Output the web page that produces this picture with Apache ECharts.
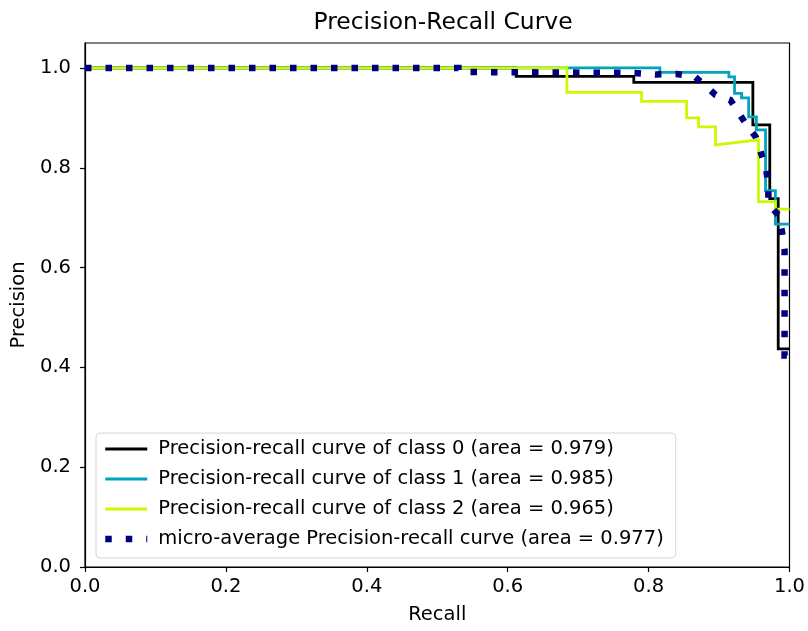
<!DOCTYPE html>
<html>
<head>
<meta charset="utf-8">
<script src="https://cdn.jsdelivr.net/npm/echarts@6/dist/echarts.min.js"></script>
<style>
  html, body { margin: 0; padding: 0; background: #fff; }
  #chart { width: 808px; height: 631px; }
</style>
</head>
<body>
<div id="chart"></div>
<script>
// Precision-recall curves per class plus the micro-average curve
const seriesNames = [
  'Precision-recall curve of class 0 (area = 0.979)',
  'Precision-recall curve of class 1 (area = 0.985)',
  'Precision-recall curve of class 2 (area = 0.965)',
  'micro-average Precision-recall curve (area = 0.977)'
];

const class0Recall    = [0, 0.612, 0.612, 0.779, 0.779, 0.948, 0.948, 0.972, 0.972, 0.984, 0.984, 1.0];
const class0Precision = [1.0, 1.0, 0.983, 0.983, 0.971, 0.971, 0.886, 0.886, 0.738, 0.738, 0.437, 0.437];

const class1Recall    = [0, 0.816, 0.816, 0.914, 0.914, 0.922, 0.922, 0.932, 0.932, 0.942, 0.942, 0.953, 0.953, 0.966, 0.966, 0.980, 0.980, 1.0];
const class1Precision = [1.0, 1.0, 0.991, 0.991, 0.982, 0.982, 0.949, 0.949, 0.940, 0.940, 0.902, 0.902, 0.876, 0.876, 0.754, 0.754, 0.687, 0.687];

const class2Recall    = [0, 0.684, 0.684, 0.790, 0.790, 0.854, 0.854, 0.871, 0.871, 0.895, 0.895, 0.956, 0.956, 0.980, 0.980, 1.0];
const class2Precision = [1.0, 1.0, 0.951, 0.951, 0.933, 0.933, 0.900, 0.900, 0.882, 0.882, 0.846, 0.856, 0.732, 0.732, 0.717, 0.717];

const microRecall    = [0, 0.53, 0.53, 0.78, 0.81, 0.84, 0.865, 0.881, 0.895, 0.916, 0.928, 0.939, 0.952, 0.966, 0.970, 0.970, 0.984, 0.989, 0.993, 0.993, 1.0];
const microPrecision = [1.0, 1.0, 0.992, 0.990, 0.987, 0.988, 0.983, 0.964, 0.946, 0.936, 0.910, 0.886, 0.862, 0.802, 0.770, 0.729, 0.705, 0.675, 0.635, 0.424, 0.424];

const tickValues = [0, 0.2, 0.4, 0.6, 0.8, 1.0];

const colors = ['#000000', '#00a4bb', '#ccf900', '#000080'];

function pairs(xs, ys) {
  return xs.map((x, i) => [x, ys[i]]);
}

const font = 'DejaVu Sans';
const textSize = 19.5;

const chart = echarts.init(document.getElementById('chart'), null, { renderer: 'canvas' });

const curveList = [
  pairs(class0Recall, class0Precision),
  pairs(class1Recall, class1Precision),
  pairs(class2Recall, class2Precision),
  pairs(microRecall, microPrecision)
];

const series = curveList.map((data, i) => {
  const isMicro = i === 3;
  return {
    name: seriesNames[i],
    type: 'line',
    data: data,
    symbol: 'none',
    animation: false,
    clip: true,
    z: 2 + i,
    lineStyle: {
      color: colors[i],
      width: isMicro ? 6.5 : 2.8,
      type: isMicro ? [6.5, 14] : 'solid',
      cap: 'butt',
      join: 'miter'
    },
    itemStyle: { color: colors[i] }
  };
});

chart.setOption({
  backgroundColor: '#ffffff',
  animation: false,
  title: {
    text: 'Precision-Recall Curve',
    left: 438,
    textAlign: 'center',
    top: 6,
    textStyle: { fontFamily: font, fontSize: 23.4, fontWeight: 'normal', color: '#000' }
  },
  grid: {
    left: 85, right: 17, top: 43, bottom: 64,
    show: true, borderColor: '#000', borderWidth: 1.2, backgroundColor: 'transparent'
  },
  legend: {
    orient: 'vertical',
    left: 96,
    top: 433,
    padding: [6, 12, 9, 6],
    itemGap: 10,
    itemWidth: 42,
    itemHeight: 14,
    backgroundColor: '#ffffff',
    borderColor: '#d6d6d6',
    borderWidth: 1,
    borderRadius: 4,
    itemStyle: { opacity: 0 },
    lineStyle: { width: 'inherit', type: 'inherit', cap: 'butt' },
    textStyle: { fontFamily: font, fontSize: textSize, lineHeight: 20, color: '#000', padding: [0, 0, 0, 6] },
    data: seriesNames,
    selectedMode: false
  },
  xAxis: {
    type: 'value',
    min: 0, max: 1,
    interval: 0.2,
    name: 'Recall',
    nameLocation: 'middle',
    nameGap: 38,
    nameTextStyle: { fontFamily: font, fontSize: textSize, color: '#000' },
    axisLine: { show: true, onZero: false, lineStyle: { color: '#000', width: 1.2 } },
    axisTick: { show: true, inside: false, length: 5, lineStyle: { color: '#000', width: 1.2 } },
    axisLabel: { fontFamily: font, fontSize: textSize, color: '#000', margin: 10,
      formatter: v => v.toFixed(1) },
    splitLine: { show: false }
  },
  yAxis: {
    type: 'value',
    min: 0, max: 1.05,
    name: 'Precision',
    nameLocation: 'middle',
    nameGap: 51,
    nameRotate: 90,
    nameTextStyle: { fontFamily: font, fontSize: textSize, color: '#000' },
    axisLine: { show: true, onZero: false, lineStyle: { color: '#000', width: 1.2 } },
    axisTick: { show: true, inside: false, length: 5, customValues: tickValues, lineStyle: { color: '#000', width: 1.2 } },
    axisLabel: { fontFamily: font, fontSize: textSize, color: '#000', margin: 14, customValues: tickValues,
      formatter: v => v.toFixed(1) },
    splitLine: { show: false }
  },
  series: series
});
</script>
</body>
</html>
